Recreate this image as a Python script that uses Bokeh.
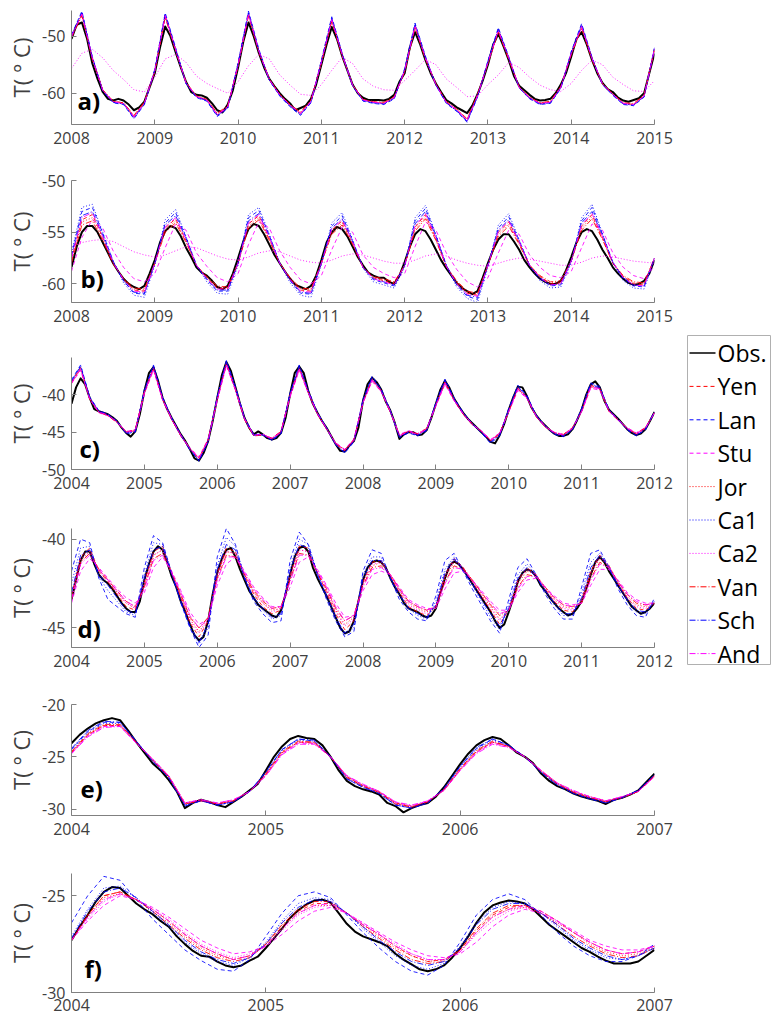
import numpy as np
from bokeh.plotting import figure
from bokeh.layouts import column, row
from bokeh.models import Range1d, Label, FixedTicker
from bokeh.core.properties import value
from bokeh.embed import file_html
from bokeh.resources import INLINE

# ---------------- series names ----------------
series_names = ["Obs.", "Yen", "Lan", "Stu", "Jor", "Ca1", "Ca2", "Van", "Sch", "And"]

# ---------------- panel a (2008-2015) ----------------
# Obs: every 1/16 year ; models: every 1/8 year
obs_a = [-50.5, -48.0, -47.6, -50.5, -54.8, -57.5, -59.8, -61.0, -61.3, -61.0, -61.3, -62.0, -63.0, -62.5, -61.5, -59.0,
         -56.5, -52.0, -48.3, -50.0, -52.8, -55.5, -58.0, -59.8, -60.3, -60.4, -60.8, -61.8, -63.0, -63.4, -62.0, -59.5,
         -55.5, -51.0, -47.6, -50.0, -53.0, -55.5, -57.5, -58.8, -60.0, -61.0, -61.8, -63.0, -62.6, -62.2, -61.0, -58.5,
         -55.0, -51.5, -48.4, -50.5, -53.5, -56.0, -58.5, -60.0, -60.8, -61.2, -61.2, -61.2, -61.3, -61.0, -60.3, -58.0,
         -56.5, -52.0, -49.3, -51.5, -54.2, -56.5, -58.3, -59.8, -61.2, -61.8, -62.5, -63.0, -63.5, -62.2, -60.2, -57.8,
         -55.0, -51.5, -49.6, -51.8, -54.2, -57.0, -58.7, -59.5, -60.3, -61.0, -61.3, -61.2, -61.0, -60.0, -58.5, -56.5,
         -53.6, -50.5, -49.3, -51.5, -54.2, -56.5, -58.2, -59.3, -59.8, -60.8, -61.3, -61.5, -61.2, -60.9, -60.0, -56.5,
         -53.0]
yen_a = [-50.0, -46.0, -53.8, -59.5, -61.5, -61.8, -64.2, -61.8,
         -56.0, -46.3, -52.3, -58.2, -60.6, -61.2, -63.8, -62.5,
         -55.0, -46.0, -52.6, -57.6, -60.3, -62.2, -63.6, -61.5,
         -54.5, -47.0, -53.2, -58.6, -61.2, -61.6, -61.8, -60.8,
         -56.0, -48.1, -53.8, -58.5, -61.6, -63.0, -64.8, -60.5,
         -54.6, -48.9, -53.8, -59.0, -60.8, -61.8, -61.6, -59.0,
         -53.0, -48.2, -53.9, -58.4, -60.2, -61.8, -62.0, -60.5,
         -52.2]
lan_a = [-49.8, -45.6, -53.6, -59.6, -61.7, -62.0, -64.5, -62.0,
         -55.8, -45.9, -52.0, -58.3, -60.8, -61.4, -64.1, -62.7,
         -54.7, -45.6, -52.3, -57.7, -60.5, -62.4, -63.9, -61.7,
         -54.2, -46.6, -53.0, -58.7, -61.4, -61.8, -62.0, -61.0,
         -55.7, -47.7, -53.5, -58.6, -61.8, -63.2, -65.1, -60.7,
         -54.3, -48.5, -53.6, -59.1, -61.0, -62.0, -61.8, -59.2,
         -52.7, -47.8, -53.7, -58.5, -60.4, -62.0, -62.2, -60.7,
         -52.0]
ca1_a = [-49.9, -45.8, -53.7, -59.5, -61.6, -61.9, -64.4, -61.9,
         -55.9, -46.1, -52.2, -58.2, -60.7, -61.3, -64.0, -62.6,
         -54.8, -45.8, -52.5, -57.6, -60.4, -62.3, -63.8, -61.6,
         -54.4, -46.8, -53.1, -58.6, -61.3, -61.7, -61.9, -60.9,
         -55.8, -47.9, -53.7, -58.5, -61.7, -63.1, -65.0, -60.6,
         -54.4, -48.7, -53.7, -59.0, -60.9, -61.9, -61.7, -59.1,
         -52.8, -48.0, -53.8, -58.4, -60.3, -61.9, -62.1, -60.6,
         -52.1]
sch_a = [-50.0, -45.9, -53.8, -59.6, -61.6, -61.9, -64.3, -61.9,
         -56.0, -46.2, -52.3, -58.3, -60.7, -61.3, -63.9, -62.6,
         -54.9, -45.9, -52.6, -57.7, -60.4, -62.3, -63.7, -61.6,
         -54.5, -46.9, -53.2, -58.7, -61.3, -61.7, -61.9, -60.9,
         -55.9, -48.0, -53.8, -58.6, -61.7, -63.1, -64.9, -60.6,
         -54.5, -48.8, -53.8, -59.1, -60.9, -61.9, -61.7, -59.1,
         -52.9, -48.1, -53.9, -58.5, -60.3, -61.9, -62.1, -60.6,
         -52.2]
jor_a = [-50.2, -46.3, -54.0, -59.4, -61.4, -61.7, -64.0, -61.6,
         -56.2, -46.6, -52.5, -58.1, -60.5, -61.1, -63.6, -62.3,
         -55.2, -46.3, -52.8, -57.5, -60.2, -62.0, -63.4, -61.3,
         -54.7, -47.3, -53.4, -58.5, -61.1, -61.5, -61.7, -60.7,
         -56.2, -48.4, -54.0, -58.4, -61.5, -62.8, -64.6, -60.3,
         -54.8, -49.2, -54.0, -58.9, -60.7, -61.7, -61.5, -58.9,
         -53.2, -48.5, -54.1, -58.3, -60.1, -61.7, -61.9, -60.4,
         -52.4]
van_a = [-50.3, -46.4, -54.1, -59.4, -61.4, -61.7, -63.9, -61.5,
         -56.3, -46.7, -52.6, -58.1, -60.5, -61.1, -63.5, -62.2,
         -55.3, -46.4, -52.9, -57.5, -60.2, -62.0, -63.3, -61.2,
         -54.8, -47.4, -53.5, -58.5, -61.1, -61.5, -61.6, -60.6,
         -56.3, -48.5, -54.1, -58.4, -61.5, -62.8, -64.5, -60.2,
         -54.9, -49.3, -54.1, -58.9, -60.7, -61.7, -61.4, -58.8,
         -53.3, -48.6, -54.2, -58.3, -60.1, -61.7, -61.8, -60.3,
         -52.5]
stu_a = [-50.1, -46.2, -53.9, -59.5, -61.5, -61.8, -64.1, -61.7,
         -56.1, -46.5, -52.4, -58.2, -60.6, -61.2, -63.7, -62.4,
         -55.1, -46.2, -52.7, -57.6, -60.3, -62.1, -63.5, -61.4,
         -54.6, -47.2, -53.3, -58.6, -61.2, -61.6, -61.8, -60.8,
         -56.1, -48.3, -53.9, -58.5, -61.6, -62.9, -64.7, -60.4,
         -54.7, -49.1, -53.9, -59.0, -60.8, -61.8, -61.6, -59.0,
         -53.1, -48.4, -54.0, -58.4, -60.2, -61.8, -62.0, -60.5,
         -52.3]
and_a = [-50.0, -46.1, -53.8, -59.5, -61.5, -61.8, -64.2, -61.8,
         -56.0, -46.4, -52.3, -58.2, -60.6, -61.2, -63.8, -62.5,
         -55.0, -46.1, -52.6, -57.6, -60.3, -62.1, -63.6, -61.5,
         -54.5, -47.1, -53.2, -58.6, -61.2, -61.6, -61.8, -60.8,
         -56.0, -48.2, -53.8, -58.5, -61.6, -62.9, -64.8, -60.5,
         -54.6, -49.0, -53.8, -59.0, -60.8, -61.8, -61.6, -59.0,
         -53.0, -48.3, -53.9, -58.4, -60.2, -61.8, -62.0, -60.5,
         -52.2]
ca2_a = [-55.7, -53.0, -52.3, -53.8, -56.0, -57.6, -59.4, -59.8,
         -57.2, -54.0, -53.2, -54.6, -57.0, -58.3, -59.2, -60.0,
         -58.0, -55.2, -53.2, -54.0, -56.8, -58.6, -60.2, -60.4,
         -58.5, -56.0, -53.7, -54.8, -57.5, -58.8, -59.4, -59.5,
         -57.8, -56.0, -54.1, -55.0, -57.5, -59.0, -60.6, -60.5,
         -58.5, -56.8, -54.6, -55.5, -57.2, -58.6, -59.4, -59.7,
         -58.3, -56.0, -54.2, -55.0, -57.2, -58.5, -59.6, -59.7,
         -57.8]

# ---------------- panel b (2008-2015) ----------------
obs_b = [-58.4, -56.4, -55.0, -54.4, -54.4, -55.0, -56.0, -57.0, -58.0, -58.8, -59.5, -60.0, -60.3, -60.5, -60.2, -59.0,
         -57.7, -56.0, -54.9, -54.4, -54.6, -55.4, -56.5, -57.4, -58.4, -58.9, -59.2, -59.7, -60.3, -60.5, -60.2, -59.0,
         -57.5, -55.9, -54.7, -54.2, -54.4, -55.2, -56.2, -57.2, -58.0, -58.8, -59.5, -60.1, -60.3, -60.5, -60.2, -59.2,
         -57.7, -56.0, -55.0, -54.5, -54.7, -55.4, -56.4, -57.4, -58.2, -58.9, -59.2, -59.4, -59.4, -59.8, -60.0, -59.2,
         -57.9, -56.4, -55.2, -54.7, -54.9, -55.7, -56.7, -57.7, -58.5, -59.2, -59.9, -60.4, -60.7, -61.0, -60.7, -59.4,
         -58.0, -56.7, -55.7, -55.2, -55.2, -55.9, -56.7, -57.7, -58.4, -59.0, -59.5, -59.8, -60.0, -60.0, -59.7, -58.7,
         -57.4, -56.0, -55.0, -54.7, -54.9, -55.7, -56.7, -57.5, -58.4, -59.0, -59.5, -59.9, -60.1, -60.0, -59.7, -59.0,
         -57.7]
ca1_b = [-57.0, -52.6, -52.3, -55.0, -57.8, -59.9, -61.1, -61.3,
         -58.2, -53.8, -52.8, -55.4, -58.2, -59.8, -60.9, -61.0,
         -58.2, -53.3, -52.6, -55.2, -58.0, -59.9, -61.1, -61.3,
         -58.2, -54.1, -53.1, -55.7, -58.5, -59.8, -60.1, -60.4,
         -58.4, -53.6, -52.4, -55.2, -58.3, -60.3, -61.4, -61.8,
         -58.4, -54.3, -53.2, -55.7, -58.3, -59.7, -60.4, -60.3,
         -58.0, -53.6, -52.3, -55.1, -58.0, -59.7, -60.4, -60.5,
         -57.6]
lan_b = [-57.2, -53.0, -52.6, -55.1, -57.8, -59.7, -60.9, -61.0,
         -58.0, -54.1, -53.1, -55.5, -58.2, -59.6, -60.7, -60.7,
         -58.0, -53.6, -52.9, -55.3, -58.0, -59.7, -60.9, -61.0,
         -58.0, -54.4, -53.4, -55.8, -58.4, -59.6, -59.9, -60.2,
         -58.2, -53.9, -52.7, -55.3, -58.2, -60.1, -61.2, -61.5,
         -58.2, -54.6, -53.5, -55.8, -58.2, -59.5, -60.2, -60.1,
         -57.8, -53.9, -52.6, -55.2, -57.9, -59.5, -60.2, -60.3,
         -57.5]
sch_b = [-57.4, -53.4, -53.0, -55.3, -57.9, -59.7, -60.8, -60.9,
         -58.0, -54.3, -53.4, -55.6, -58.2, -59.5, -60.6, -60.6,
         -58.0, -53.9, -53.2, -55.4, -58.0, -59.6, -60.8, -60.9,
         -58.0, -54.6, -53.7, -55.9, -58.4, -59.5, -59.8, -60.1,
         -58.2, -54.2, -53.0, -55.4, -58.2, -60.0, -61.1, -61.3,
         -58.2, -54.8, -53.8, -55.9, -58.2, -59.4, -60.1, -60.0,
         -57.8, -54.1, -53.0, -55.3, -57.9, -59.4, -60.1, -60.2,
         -57.5]
yen_b = [-57.6, -53.8, -53.3, -55.5, -58.0, -59.6, -60.6, -60.7,
         -58.0, -54.6, -53.7, -55.8, -58.2, -59.4, -60.4, -60.5,
         -58.0, -54.2, -53.4, -55.6, -58.0, -59.5, -60.6, -60.7,
         -58.0, -54.8, -53.9, -56.0, -58.4, -59.4, -59.7, -60.0,
         -58.2, -54.5, -53.3, -55.6, -58.3, -59.9, -60.9, -61.1,
         -58.2, -55.0, -54.0, -56.0, -58.2, -59.3, -60.0, -59.9,
         -57.8, -54.4, -53.3, -55.5, -58.0, -59.3, -60.0, -60.1,
         -57.5]
jor_b = [-57.8, -54.0, -53.6, -55.6, -58.0, -59.5, -60.5, -60.6,
         -58.0, -54.8, -53.9, -55.9, -58.2, -59.4, -60.3, -60.4,
         -58.0, -54.4, -53.6, -55.7, -58.0, -59.5, -60.5, -60.6,
         -58.0, -55.0, -54.1, -56.1, -58.4, -59.4, -59.6, -59.9,
         -58.2, -54.7, -53.5, -55.7, -58.3, -59.8, -60.8, -61.0,
         -58.2, -55.2, -54.2, -56.1, -58.2, -59.3, -59.9, -59.8,
         -57.8, -54.6, -53.5, -55.6, -58.0, -59.3, -59.9, -60.0,
         -57.5]
van_b = [-58.0, -54.3, -53.9, -55.8, -58.1, -59.5, -60.4, -60.5,
         -58.0, -55.0, -54.1, -56.0, -58.2, -59.3, -60.2, -60.3,
         -58.0, -54.6, -53.8, -55.8, -58.0, -59.4, -60.4, -60.5,
         -58.0, -55.2, -54.3, -56.2, -58.4, -59.3, -59.5, -59.8,
         -58.2, -54.9, -53.7, -55.8, -58.3, -59.7, -60.7, -60.9,
         -58.2, -55.4, -54.4, -56.2, -58.2, -59.2, -59.8, -59.7,
         -57.8, -54.8, -53.7, -55.7, -58.0, -59.2, -59.8, -59.9,
         -57.5]
stu_b = [-58.8, -55.5, -53.8, -54.6, -56.8, -58.4, -59.5, -59.8,
         -59.0, -56.5, -54.2, -54.8, -57.0, -58.3, -59.4, -59.8,
         -59.0, -56.2, -54.0, -54.6, -56.8, -58.4, -59.6, -60.0,
         -59.2, -56.7, -54.5, -55.0, -57.2, -58.4, -59.0, -59.4,
         -59.0, -56.4, -54.0, -54.8, -57.0, -58.6, -59.8, -60.3,
         -59.4, -57.0, -54.8, -55.2, -57.2, -58.4, -59.2, -59.4,
         -58.8, -56.5, -54.2, -54.8, -57.0, -58.4, -59.2, -59.5,
         -58.3]
and_b = [-57.5, -53.6, -53.1, -55.4, -57.9, -59.6, -60.7, -60.8,
         -58.0, -54.5, -53.6, -55.7, -58.2, -59.5, -60.5, -60.5,
         -58.0, -54.1, -53.3, -55.5, -58.0, -59.6, -60.7, -60.8,
         -58.0, -54.7, -53.8, -55.9, -58.4, -59.5, -59.8, -60.1,
         -58.2, -54.4, -53.2, -55.5, -58.3, -60.0, -61.0, -61.2,
         -58.2, -54.9, -53.9, -55.9, -58.2, -59.4, -60.1, -60.0,
         -57.8, -54.3, -53.2, -55.4, -57.9, -59.4, -60.1, -60.2,
         -57.5]
ca2_b = [-56.4, -56.0, -55.8, -55.7, -55.9, -56.4, -56.9, -57.2,
         -57.4, -57.2, -56.8, -56.4, -56.5, -56.9, -57.3, -57.6,
         -57.7, -57.4, -57.0, -56.8, -56.9, -57.3, -57.7, -57.9,
         -58.0, -57.7, -57.3, -57.1, -57.2, -57.5, -57.8, -58.0,
         -58.0, -57.7, -57.3, -57.1, -57.3, -57.7, -58.0, -58.2,
         -58.3, -58.0, -57.7, -57.5, -57.6, -57.8, -58.0, -58.2,
         -58.2, -57.9, -57.5, -57.3, -57.4, -57.6, -57.8, -57.9,
         -58.0]

# ---------------- panel c (2004-2012) ----------------
obs_c = [-41.2, -39.0, -37.8, -38.6, -40.4, -41.9, -42.2, -42.4, -42.6, -43.0, -43.5, -44.4, -45.1, -45.6, -44.9, -42.6,
         -39.5, -37.1, -36.3, -38.1, -40.4, -41.9, -43.1, -44.2, -45.3, -46.2, -47.3, -48.5, -48.8, -47.8, -46.2, -43.5,
         -40.4, -37.4, -35.6, -36.8, -39.0, -41.2, -43.1, -44.4, -45.3, -44.9, -45.3, -45.8, -46.0, -45.8, -45.1, -43.1,
         -39.9, -37.1, -36.2, -37.1, -39.5, -41.2, -42.4, -43.5, -44.4, -45.5, -46.6, -47.5, -47.6, -46.8, -46.2, -44.4,
         -40.8, -38.6, -37.7, -38.3, -39.3, -40.9, -42.1, -43.8, -45.9, -45.3, -45.0, -45.0, -45.4, -45.3, -44.7, -43.1,
         -41.2, -39.3, -38.1, -39.1, -40.5, -41.5, -42.4, -43.2, -43.8, -44.4, -45.0, -45.6, -46.3, -46.5, -45.4, -43.9,
         -42.0, -40.3, -38.9, -39.0, -40.2, -41.7, -42.7, -43.5, -44.1, -44.7, -45.2, -45.5, -45.5, -45.3, -44.6, -43.4,
         -42.0, -40.0, -38.6, -38.2, -39.0, -40.8, -42.0, -42.6, -43.2, -43.9, -44.6, -45.1, -45.4, -45.2, -44.6, -43.5,
         -42.3]
lan_c = [-38.0, -36.0, -40.3, -42.1, -42.6, -43.5, -45.2, -45.0,
         -39.3, -36.0, -40.3, -43.1, -45.3, -47.3, -48.9, -46.3,
         -40.2, -35.4, -38.9, -43.1, -45.3, -45.3, -46.1, -45.2,
         -39.7, -36.0, -39.4, -42.4, -44.4, -46.7, -47.8, -46.3,
         -40.6, -37.5, -39.2, -42.1, -45.7, -45.1, -45.5, -44.8,
         -41.0, -37.9, -40.4, -42.4, -43.9, -45.1, -46.5, -45.5,
         -41.8, -38.7, -40.1, -42.7, -44.2, -45.3, -45.6, -44.7,
         -41.8, -38.4, -38.9, -42.0, -43.3, -44.7, -45.5, -44.7,
         -42.2]
ca1_c = [-38.1, -36.1, -40.3, -42.2, -42.6, -43.5, -45.2, -44.9,
         -39.4, -36.1, -40.4, -43.1, -45.3, -47.3, -48.8, -46.2,
         -40.3, -35.5, -39.0, -43.1, -45.3, -45.3, -46.1, -45.1,
         -39.8, -36.1, -39.5, -42.4, -44.4, -46.7, -47.7, -46.2,
         -40.7, -37.6, -39.3, -42.1, -45.7, -45.0, -45.4, -44.7,
         -41.1, -38.0, -40.5, -42.4, -43.8, -45.0, -46.4, -45.4,
         -41.9, -38.8, -40.2, -42.7, -44.1, -45.2, -45.5, -44.6,
         -41.9, -38.5, -39.0, -42.0, -43.2, -44.6, -45.4, -44.6,
         -42.3]
sch_c = [-38.2, -36.2, -40.4, -42.2, -42.7, -43.6, -45.1, -44.9,
         -39.5, -36.2, -40.4, -43.2, -45.4, -47.4, -48.8, -46.2,
         -40.4, -35.6, -39.1, -43.2, -45.4, -45.4, -46.0, -45.1,
         -39.9, -36.2, -39.6, -42.5, -44.5, -46.7, -47.7, -46.2,
         -40.8, -37.7, -39.4, -42.2, -45.6, -45.0, -45.4, -44.7,
         -41.2, -38.1, -40.6, -42.5, -43.9, -45.0, -46.3, -45.4,
         -42.0, -38.9, -40.3, -42.8, -44.2, -45.2, -45.5, -44.6,
         -42.0, -38.6, -39.1, -42.1, -43.3, -44.6, -45.4, -44.6,
         -42.3]
yen_c = [-38.3, -36.3, -40.5, -42.3, -42.7, -43.6, -45.0, -44.8,
         -39.6, -36.3, -40.5, -43.2, -45.4, -47.3, -48.6, -46.1,
         -40.5, -35.7, -39.2, -43.2, -45.4, -45.4, -45.9, -45.0,
         -40.0, -36.3, -39.6, -42.5, -44.5, -46.6, -47.5, -46.1,
         -40.9, -37.8, -39.4, -42.2, -45.5, -44.9, -45.3, -44.6,
         -41.3, -38.2, -40.6, -42.5, -43.9, -44.9, -46.2, -45.3,
         -42.1, -39.0, -40.3, -42.8, -44.2, -45.1, -45.4, -44.5,
         -42.1, -38.7, -39.1, -42.1, -43.3, -44.5, -45.3, -44.5,
         -42.4]
jor_c = [-38.4, -36.4, -40.5, -42.3, -42.8, -43.6, -45.0, -44.8,
         -39.7, -36.4, -40.6, -43.3, -45.4, -47.2, -48.5, -46.0,
         -40.6, -35.8, -39.3, -43.3, -45.4, -45.3, -45.9, -45.0,
         -40.1, -36.4, -39.7, -42.6, -44.5, -46.5, -47.4, -46.0,
         -41.0, -37.9, -39.5, -42.3, -45.5, -44.9, -45.3, -44.6,
         -41.4, -38.3, -40.7, -42.6, -43.9, -44.9, -46.1, -45.2,
         -42.2, -39.1, -40.4, -42.9, -44.2, -45.1, -45.4, -44.5,
         -42.2, -38.8, -39.2, -42.2, -43.3, -44.5, -45.2, -44.5,
         -42.4]
van_c = [-38.4, -36.5, -40.6, -42.3, -42.8, -43.7, -45.0, -44.7,
         -39.7, -36.5, -40.6, -43.3, -45.5, -47.2, -48.5, -46.0,
         -40.6, -35.9, -39.3, -43.3, -45.5, -45.4, -45.8, -44.9,
         -40.1, -36.5, -39.7, -42.6, -44.6, -46.5, -47.4, -46.0,
         -41.0, -38.0, -39.5, -42.3, -45.4, -44.9, -45.2, -44.5,
         -41.4, -38.4, -40.7, -42.6, -44.0, -44.9, -46.1, -45.2,
         -42.2, -39.2, -40.4, -42.9, -44.3, -45.1, -45.3, -44.4,
         -42.2, -38.9, -39.2, -42.2, -43.4, -44.5, -45.2, -44.4,
         -42.4]
stu_c = [-38.5, -36.7, -40.6, -42.4, -42.8, -43.7, -44.9, -44.7,
         -39.9, -36.7, -40.7, -43.3, -45.5, -47.1, -48.3, -45.9,
         -40.8, -36.1, -39.4, -43.3, -45.5, -45.3, -45.8, -44.9,
         -40.3, -36.7, -39.8, -42.6, -44.6, -46.4, -47.3, -45.9,
         -41.1, -38.2, -39.6, -42.3, -45.3, -44.8, -45.2, -44.5,
         -41.5, -38.6, -40.8, -42.6, -44.0, -44.8, -46.0, -45.1,
         -42.3, -39.4, -40.5, -42.9, -44.3, -45.0, -45.3, -44.4,
         -42.3, -39.1, -39.4, -42.2, -43.4, -44.4, -45.1, -44.4,
         -42.4]
ca2_c = [-38.5, -36.6, -40.6, -42.4, -42.8, -43.7, -44.9, -44.7,
         -39.8, -36.6, -40.7, -43.3, -45.5, -47.2, -48.4, -46.0,
         -40.7, -36.0, -39.4, -43.3, -45.4, -45.3, -45.8, -44.9,
         -40.2, -36.6, -39.8, -42.6, -44.6, -46.5, -47.3, -46.0,
         -41.1, -38.1, -39.6, -42.3, -45.4, -44.8, -45.2, -44.5,
         -41.5, -38.5, -40.8, -42.6, -44.0, -44.9, -46.0, -45.1,
         -42.3, -39.3, -40.5, -42.9, -44.3, -45.0, -45.3, -44.4,
         -42.3, -39.0, -39.3, -42.2, -43.4, -44.4, -45.1, -44.4,
         -42.4]
and_c = [-38.4, -36.5, -40.5, -42.3, -42.7, -43.6, -45.0, -44.8,
         -39.7, -36.5, -40.6, -43.2, -45.4, -47.2, -48.5, -46.1,
         -40.6, -35.9, -39.3, -43.2, -45.4, -45.3, -45.9, -45.0,
         -40.1, -36.5, -39.7, -42.5, -44.5, -46.5, -47.4, -46.1,
         -41.0, -38.0, -39.5, -42.2, -45.5, -44.9, -45.3, -44.6,
         -41.4, -38.4, -40.7, -42.5, -43.9, -44.9, -46.1, -45.2,
         -42.2, -39.2, -40.4, -42.8, -44.2, -45.1, -45.4, -44.5,
         -42.2, -38.9, -39.2, -42.1, -43.3, -44.5, -45.2, -44.5,
         -42.4]

# ---------------- panel d (2004-2012) ----------------
obs_d = [-43.4, -42.3, -41.2, -40.7, -40.7, -41.4, -42.0, -42.3, -42.5, -42.8, -43.2, -43.6, -43.9, -44.1, -44.1, -43.5,
         -42.3, -41.4, -40.7, -40.4, -40.6, -41.3, -42.1, -42.7, -43.5, -44.1, -44.8, -45.4, -45.7, -45.5, -44.6, -43.1,
         -41.9, -41.1, -40.6, -40.5, -41.0, -41.7, -42.3, -42.9, -43.3, -43.7, -43.9, -44.1, -44.3, -44.4, -44.0, -43.1,
         -42.0, -41.0, -40.5, -40.4, -40.7, -41.6, -42.2, -42.7, -43.2, -43.8, -44.4, -45.0, -45.3, -45.2, -44.6, -43.5,
         -42.3, -41.6, -41.3, -41.2, -41.3, -41.6, -42.2, -42.7, -43.1, -43.6, -43.9, -44.0, -44.1, -44.3, -44.4, -44.3,
         -43.9, -43.0, -42.2, -41.5, -41.25, -41.4, -41.7, -42.1, -42.5, -42.9, -43.3, -43.7, -44.1, -44.6, -45.0, -44.8,
         -44.1, -43.3, -42.4, -41.9, -41.7, -41.8, -42.1, -42.6, -42.9, -43.3, -43.6, -43.9, -44.1, -44.3, -44.2, -43.9,
         -43.5, -42.8, -42.0, -41.3, -41.0, -41.3, -41.8, -42.2, -42.6, -43.0, -43.4, -43.8, -44.0, -44.2, -44.1, -43.9,
         -43.6]
lan_d = [-41.8, -40.0, -40.2, -42.2, -43.4, -43.8, -44.2, -44.4,
         -41.6, -39.8, -40.2, -41.9, -43.6, -45.0, -46.1, -45.4,
         -41.0, -39.4, -40.3, -42.2, -43.5, -44.2, -44.7, -44.6,
         -41.2, -39.6, -40.3, -42.0, -43.4, -44.6, -45.5, -45.2,
         -41.8, -40.6, -40.8, -42.2, -43.4, -44.1, -44.5, -44.6,
         -43.2, -41.2, -40.8, -41.8, -42.8, -43.7, -44.6, -45.3,
         -43.4, -41.6, -41.1, -42.0, -43.1, -43.9, -44.5, -44.5,
         -42.7, -40.8, -40.6, -41.6, -42.8, -43.7, -44.3, -44.4,
         -43.3]
ca1_d = [-42.5, -40.5, -40.4, -42.1, -42.9, -43.5, -44.1, -44.3,
         -42.0, -40.2, -40.3, -41.9, -43.5, -44.9, -45.9, -45.0,
         -41.5, -39.9, -40.4, -42.1, -43.4, -44.0, -44.5, -44.3,
         -41.6, -40.0, -40.3, -41.9, -43.2, -44.4, -45.4, -45.0,
         -42.0, -41.0, -41.0, -42.1, -43.2, -43.9, -44.3, -44.5,
         -43.5, -41.7, -41.0, -41.7, -42.6, -43.5, -44.4, -45.1,
         -43.7, -42.0, -41.4, -42.0, -42.9, -43.7, -44.3, -44.3,
         -43.0, -41.3, -40.8, -41.5, -42.6, -43.5, -44.1, -44.2,
         -43.5]
sch_d = [-43.0, -40.9, -40.6, -42.0, -42.6, -43.3, -44.0, -44.2,
         -42.2, -40.6, -40.4, -42.0, -43.5, -44.9, -45.8, -44.8,
         -41.7, -40.3, -40.6, -42.2, -43.3, -43.9, -44.4, -44.2,
         -41.8, -40.3, -40.5, -42.0, -43.2, -44.4, -45.3, -44.8,
         -42.2, -41.2, -41.2, -42.2, -43.1, -43.9, -44.2, -44.4,
         -43.7, -41.9, -41.1, -41.8, -42.5, -43.4, -44.2, -44.9,
         -43.9, -42.2, -41.6, -42.1, -42.9, -43.6, -44.2, -44.2,
         -43.3, -41.6, -40.9, -41.6, -42.6, -43.4, -44.0, -44.1,
         -43.5]
yen_d = [-43.2, -41.0, -40.5, -41.8, -42.4, -43.1, -43.8, -44.0,
         -42.4, -40.7, -40.4, -41.9, -43.3, -44.7, -45.5, -44.6,
         -41.9, -40.5, -40.7, -42.1, -43.1, -43.8, -44.2, -44.0,
         -42.0, -40.4, -40.5, -41.9, -43.0, -44.2, -45.1, -44.6,
         -42.4, -41.3, -41.2, -42.1, -43.0, -43.8, -44.1, -44.3,
         -43.8, -42.0, -41.1, -41.6, -42.4, -43.2, -44.0, -44.8,
         -44.0, -42.3, -41.6, -42.0, -42.8, -43.5, -44.0, -44.1,
         -43.4, -41.8, -40.9, -41.5, -42.5, -43.3, -43.9, -44.0,
         -43.6]
jor_d = [-43.3, -41.2, -40.7, -41.7, -42.3, -43.0, -43.6, -43.9,
         -42.6, -40.9, -40.6, -41.9, -43.2, -44.5, -45.2, -44.5,
         -42.0, -40.7, -40.8, -42.0, -43.0, -43.6, -44.0, -43.9,
         -42.2, -40.6, -40.7, -41.9, -42.9, -44.0, -44.8, -44.4,
         -42.5, -41.5, -41.3, -42.0, -42.9, -43.6, -43.9, -44.1,
         -43.8, -42.2, -41.3, -41.6, -42.3, -43.1, -43.8, -44.5,
         -44.0, -42.5, -41.8, -42.0, -42.7, -43.4, -43.8, -43.9,
         -43.5, -42.0, -41.1, -41.5, -42.4, -43.2, -43.7, -43.8,
         -43.6]
van_d = [-43.4, -41.3, -40.8, -41.7, -42.3, -42.9, -43.5, -43.8,
         -42.7, -41.1, -40.8, -41.9, -43.1, -44.4, -45.0, -44.4,
         -42.2, -40.9, -41.0, -42.0, -42.9, -43.5, -43.9, -43.8,
         -42.3, -40.8, -40.9, -41.9, -42.8, -43.9, -44.6, -44.3,
         -42.6, -41.6, -41.5, -42.0, -42.8, -43.5, -43.8, -44.0,
         -43.8, -42.4, -41.5, -41.7, -42.3, -43.0, -43.7, -44.3,
         -44.0, -42.7, -42.0, -42.1, -42.7, -43.3, -43.7, -43.8,
         -43.6, -42.2, -41.3, -41.6, -42.4, -43.1, -43.6, -43.7,
         -43.6]
stu_d = [-43.6, -41.8, -41.1, -41.6, -42.2, -42.8, -43.3, -43.6,
         -43.0, -41.6, -41.0, -41.8, -42.9, -44.1, -44.8, -44.5,
         -42.6, -41.4, -41.0, -41.8, -42.7, -43.3, -43.8, -43.8,
         -42.7, -41.3, -41.0, -41.7, -42.6, -43.6, -44.4, -44.3,
         -42.9, -42.0, -41.8, -42.0, -42.7, -43.4, -43.7, -43.9,
         -43.9, -42.8, -41.9, -41.8, -42.3, -42.9, -43.5, -44.0,
         -44.0, -43.0, -42.3, -42.2, -42.7, -43.2, -43.6, -43.7,
         -43.6, -42.6, -41.7, -41.7, -42.3, -43.0, -43.4, -43.6,
         -43.6]
and_d = [-43.4, -41.4, -40.9, -41.7, -42.3, -42.9, -43.5, -43.8,
         -42.8, -41.2, -40.9, -41.9, -43.0, -44.3, -45.0, -44.5,
         -42.3, -41.0, -41.0, -41.9, -42.8, -43.4, -43.9, -43.8,
         -42.4, -40.9, -40.9, -41.8, -42.7, -43.8, -44.6, -44.3,
         -42.7, -41.7, -41.6, -42.0, -42.8, -43.5, -43.8, -44.0,
         -43.8, -42.5, -41.6, -41.7, -42.3, -43.0, -43.6, -44.2,
         -44.0, -42.8, -42.1, -42.1, -42.7, -43.3, -43.7, -43.8,
         -43.6, -42.3, -41.4, -41.6, -42.4, -43.1, -43.5, -43.7,
         -43.6]
ca2_d = [-43.3, -41.1, -40.7, -41.8, -42.4, -43.0, -43.6, -43.9,
         -42.5, -40.9, -40.6, -41.9, -43.2, -44.6, -45.3, -44.6,
         -42.0, -40.7, -40.8, -42.0, -43.0, -43.6, -44.1, -43.9,
         -42.1, -40.6, -40.7, -41.9, -42.9, -44.1, -44.9, -44.5,
         -42.5, -41.4, -41.3, -42.0, -42.9, -43.7, -44.0, -44.2,
         -43.8, -42.1, -41.2, -41.6, -42.4, -43.2, -43.9, -44.6,
         -44.0, -42.4, -41.7, -42.0, -42.8, -43.5, -43.9, -44.0,
         -43.5, -41.9, -41.0, -41.5, -42.5, -43.3, -43.8, -43.9,
         -43.6]

# ---------------- panel e (2004-2007) ----------------
# Obs: every 1/24 year ; models: every 1/12 year
obs_e = [-23.7, -22.9, -22.3, -21.8, -21.5, -21.3, -21.5, -22.5, -23.6, -24.6, -25.6, -26.3,
         -27.2, -28.3, -29.9, -29.4, -29.1, -29.3, -29.6, -29.8, -29.3, -28.8, -28.2, -27.6,
         -26.3, -25.0, -24.0, -23.3, -23.0, -23.2, -23.3, -23.9, -25.0, -26.3, -27.3, -27.8,
         -28.1, -28.3, -28.6, -29.4, -29.7, -30.3, -29.9, -29.6, -29.4, -28.8, -27.9, -26.8,
         -25.7, -24.7, -23.9, -23.4, -23.1, -23.3, -23.9, -24.6, -25.0, -25.6, -26.6, -27.3,
         -27.8, -28.1, -28.5, -28.8, -29.0, -29.2, -29.5, -29.1, -28.9, -28.6, -28.2, -27.4,
         -26.6]
lan_e = [-24.3, -22.6, -21.7, -21.7, -23.5, -25.4, -27.0, -29.6, -29.2, -29.6, -29.3, -28.3,
         -26.5, -24.3, -23.3, -23.5, -25.0, -27.1, -27.9, -28.5, -29.6, -29.9, -29.4, -28.0,
         -25.9, -24.2, -23.3, -23.9, -25.0, -26.5, -27.7, -28.5, -29.0, -29.4, -28.9, -28.2,
         -26.7]
ca1_e = [-24.4, -22.7, -21.8, -21.8, -23.5, -25.3, -26.9, -29.6, -29.2, -29.6, -29.3, -28.3,
         -26.5, -24.4, -23.4, -23.5, -25.0, -27.0, -27.8, -28.4, -29.5, -29.8, -29.3, -28.1,
         -26.0, -24.3, -23.4, -23.9, -25.0, -26.4, -27.6, -28.4, -28.9, -29.3, -28.9, -28.2,
         -26.7]
sch_e = [-24.2, -22.5, -21.6, -21.7, -23.5, -25.4, -27.0, -29.7, -29.2, -29.6, -29.3, -28.3,
         -26.4, -24.3, -23.3, -23.4, -25.0, -27.1, -27.9, -28.5, -29.6, -29.9, -29.4, -28.0,
         -25.9, -24.1, -23.3, -23.9, -25.0, -26.5, -27.7, -28.5, -29.0, -29.4, -28.9, -28.2,
         -26.7]
yen_e = [-24.6, -22.9, -22.0, -22.0, -23.6, -25.3, -26.9, -29.5, -29.2, -29.5, -29.2, -28.3,
         -26.7, -24.6, -23.6, -23.6, -25.0, -26.9, -27.8, -28.4, -29.4, -29.8, -29.3, -28.2,
         -26.2, -24.5, -23.6, -24.0, -25.0, -26.4, -27.6, -28.4, -28.9, -29.3, -28.9, -28.3,
         -26.8]
jor_e = [-24.6, -22.9, -22.0, -22.0, -23.6, -25.2, -26.8, -29.4, -29.1, -29.5, -29.2, -28.3,
         -26.7, -24.6, -23.6, -23.7, -25.0, -26.9, -27.7, -28.3, -29.4, -29.7, -29.3, -28.2,
         -26.2, -24.5, -23.6, -24.0, -25.0, -26.3, -27.5, -28.3, -28.8, -29.2, -28.9, -28.3,
         -26.8]
van_e = [-24.5, -22.8, -21.9, -21.9, -23.6, -25.3, -26.9, -29.5, -29.2, -29.5, -29.2, -28.3,
         -26.6, -24.5, -23.5, -23.6, -25.0, -27.0, -27.8, -28.4, -29.5, -29.8, -29.3, -28.1,
         -26.1, -24.4, -23.5, -24.0, -25.0, -26.4, -27.6, -28.4, -28.9, -29.3, -28.9, -28.3,
         -26.8]
stu_e = [-24.7, -23.0, -22.1, -22.1, -23.7, -25.2, -26.8, -29.4, -29.1, -29.4, -29.1, -28.3,
         -26.8, -24.7, -23.7, -23.7, -25.0, -26.8, -27.7, -28.3, -29.3, -29.7, -29.2, -28.2,
         -26.3, -24.6, -23.7, -24.1, -25.0, -26.3, -27.5, -28.3, -28.8, -29.2, -28.8, -28.3,
         -26.9]
ca2_e = [-24.6, -23.0, -22.1, -22.0, -23.6, -25.2, -26.8, -29.4, -29.1, -29.5, -29.2, -28.3,
         -26.8, -24.7, -23.6, -23.7, -25.0, -26.8, -27.7, -28.3, -29.4, -29.7, -29.2, -28.2,
         -26.2, -24.6, -23.6, -24.0, -25.0, -26.3, -27.5, -28.3, -28.8, -29.2, -28.8, -28.3,
         -26.9]
and_e = [-24.7, -23.1, -22.2, -22.1, -23.7, -25.2, -26.8, -29.4, -29.1, -29.4, -29.1, -28.3,
         -26.8, -24.8, -23.8, -23.8, -25.0, -26.8, -27.6, -28.3, -29.3, -29.6, -29.2, -28.2,
         -26.3, -24.7, -23.8, -24.1, -25.0, -26.3, -27.5, -28.2, -28.8, -29.2, -28.8, -28.3,
         -26.9]

# ---------------- panel f (2004-2007) ----------------
obs_f = [-27.3, -26.6, -26.0, -25.3, -24.8, -24.55, -24.6, -25.0, -25.4, -25.7, -25.95, -26.3,
         -26.6, -27.1, -27.5, -27.85, -28.1, -28.15, -28.4, -28.6, -28.7, -28.6, -28.35, -28.15,
         -27.7, -27.2, -26.7, -26.15, -25.75, -25.45, -25.25, -25.2, -25.35, -25.9, -26.45, -26.85,
         -27.1, -27.25, -27.4, -27.6, -28.0, -28.3, -28.55, -28.8, -28.9, -28.8, -28.6, -28.2,
         -27.7, -27.1, -26.4, -25.85, -25.5, -25.35, -25.25, -25.3, -25.4, -25.7, -26.1, -26.5,
         -26.8, -27.1, -27.4, -27.7, -27.9, -28.15, -28.35, -28.5, -28.5, -28.5, -28.4, -28.1,
         -27.8]
lan_f = [-26.4, -25.0, -24.0, -24.2, -25.2, -26.2, -27.0, -27.8, -28.35, -28.8, -28.9, -28.3,
         -27.1, -25.9, -25.0, -24.8, -25.1, -26.0, -26.9, -27.7, -28.4, -28.9, -29.1, -28.6,
         -27.4, -26.0, -25.2, -24.9, -25.2, -26.0, -26.9, -27.6, -28.1, -28.4, -28.4, -28.1,
         -27.5]
stu_f = [-27.3, -26.3, -25.5, -25.0, -25.2, -25.6, -26.1, -26.7, -27.3, -27.7, -28.0, -27.9,
         -27.6, -27.0, -26.3, -25.8, -25.6, -25.9, -26.4, -26.9, -27.4, -27.8, -28.1, -28.2,
         -28.0, -27.4, -26.6, -26.0, -25.7, -25.9, -26.3, -26.8, -27.3, -27.6, -27.8, -27.8,
         -27.6]
yen_f = [-27.3, -26.0, -25.0, -24.8, -25.2, -25.7, -26.3, -27.0, -27.6, -28.0, -28.3, -28.1,
         -27.5, -26.6, -25.8, -25.4, -25.4, -25.9, -26.5, -27.0, -27.6, -28.1, -28.4, -28.3,
         -27.8, -26.8, -26.0, -25.6, -25.5, -25.8, -26.3, -26.9, -27.4, -27.8, -28.0, -27.9,
         -27.6]
jor_f = [-27.3, -26.1, -25.1, -24.9, -25.2, -25.8, -26.4, -27.1, -27.7, -28.1, -28.3, -28.1,
         -27.6, -26.7, -25.9, -25.5, -25.5, -25.9, -26.5, -27.1, -27.7, -28.1, -28.4, -28.3,
         -27.9, -26.9, -26.1, -25.7, -25.6, -25.9, -26.4, -26.9, -27.5, -27.9, -28.1, -28.0,
         -27.7]
van_f = [-27.3, -26.0, -25.0, -24.8, -25.2, -25.8, -26.5, -27.2, -27.8, -28.2, -28.4, -28.2,
         -27.5, -26.5, -25.7, -25.3, -25.3, -25.9, -26.6, -27.2, -27.8, -28.3, -28.5, -28.4,
         -27.8, -26.7, -25.9, -25.5, -25.5, -25.9, -26.5, -27.1, -27.6, -28.0, -28.2, -28.1,
         -27.7]
ca1_f = [-27.1, -25.7, -24.6, -24.5, -25.1, -25.9, -26.6, -27.4, -28.0, -28.4, -28.6, -28.2,
         -27.4, -26.3, -25.4, -25.1, -25.2, -25.9, -26.7, -27.4, -28.1, -28.6, -28.8, -28.5,
         -27.6, -26.4, -25.6, -25.3, -25.4, -25.9, -26.6, -27.3, -27.8, -28.2, -28.3, -28.1,
         -27.6]
sch_f = [-27.2, -25.8, -24.8, -24.6, -25.1, -25.8, -26.5, -27.3, -27.9, -28.3, -28.5, -28.2,
         -27.5, -26.4, -25.6, -25.2, -25.3, -25.9, -26.6, -27.3, -27.9, -28.4, -28.6, -28.4,
         -27.7, -26.5, -25.7, -25.4, -25.4, -25.9, -26.5, -27.2, -27.7, -28.1, -28.3, -28.1,
         -27.7]
ca2_f = [-27.3, -26.2, -25.3, -24.9, -25.2, -25.7, -26.2, -26.9, -27.5, -27.9, -28.2, -28.0,
         -27.6, -26.8, -26.0, -25.6, -25.5, -25.9, -26.4, -27.0, -27.5, -28.0, -28.3, -28.3,
         -27.9, -27.0, -26.3, -25.8, -25.6, -25.9, -26.4, -26.9, -27.4, -27.8, -28.0, -27.9,
         -27.6]
and_f = [-27.3, -26.1, -25.2, -24.9, -25.2, -25.7, -26.3, -27.0, -27.6, -28.0, -28.3, -28.1,
         -27.6, -26.7, -25.9, -25.5, -25.4, -25.9, -26.5, -27.0, -27.6, -28.0, -28.3, -28.3,
         -27.9, -26.9, -26.1, -25.7, -25.5, -25.8, -26.3, -26.9, -27.4, -27.8, -28.0, -27.9,
         -27.6]

# ---------------- tick values ----------------
xticks_ab = [2008, 2009, 2010, 2011, 2012, 2013, 2014, 2015]
xticks_cd = [2004, 2005, 2006, 2007, 2008, 2009, 2010, 2011, 2012]
xticks_ef = [2004, 2005, 2006, 2007]
yticks_a = [-60, -50]
yticks_b = [-60, -55, -50]
yticks_c = [-50, -45, -40]
yticks_d = [-45, -40]
yticks_e = [-30, -25, -20]
yticks_f = [-30, -25]

# ---------------- styles ----------------
RED, BLUE, MAG = "#ff0000", "#0000ff", "#ff00ff"
colors = ["#000000", RED, BLUE, MAG, RED, BLUE, MAG, RED, BLUE, MAG]
DASH, DOT, DASHDOT = "4 3", "1 2", "6 2 1 2"
dashes = ["solid", DASH, DASH, DASH, DOT, DOT, DOT, DASHDOT, DASHDOT, DASHDOT]
widths = [2.0] + [1.0] * 9
FONT = "Open Sans"

panels = [
    dict(lab="a)", obs=obs_a, mods=[yen_a, lan_a, stu_a, jor_a, ca1_a, ca2_a, van_a, sch_a, and_a],
         t0=2008, so=1 / 16, sm=1 / 8, xr=(2008, 2015), yr=(-65.5, -45.5), xt=xticks_ab, yt=yticks_a,
         h=160, top=10, bot=36, left=71, right=29, lx=6, ly=8, xs=7),
    dict(lab="b)", obs=obs_b, mods=[yen_b, lan_b, stu_b, jor_b, ca1_b, ca2_b, van_b, sch_b, and_b],
         t0=2008, so=1 / 16, sm=1 / 8, xr=(2008, 2015), yr=(-61.8, -50.0), xt=xticks_ab, yt=yticks_b,
         h=179, top=20, bot=37, left=71, right=29, lx=9, ly=8, xs=7),
    dict(lab="c)", obs=obs_c, mods=[yen_c, lan_c, stu_c, jor_c, ca1_c, ca2_c, van_c, sch_c, and_c],
         t0=2004, so=1 / 16, sm=1 / 8, xr=(2004, 2012), yr=(-50.0, -35.0), xt=xticks_cd, yt=yticks_c,
         h=170, top=18, bot=40, left=70, right=26, lx=8, ly=5, xs=7),
    dict(lab="d)", obs=obs_d, mods=[yen_d, lan_d, stu_d, jor_d, ca1_d, ca2_d, van_d, sch_d, and_d],
         t0=2004, so=1 / 16, sm=1 / 8, xr=(2004, 2012), yr=(-46.1, -39.4), xt=xticks_cd, yt=yticks_d,
         h=176, top=19, bot=38, left=70, right=26, lx=6, ly=3, xs=7),
    dict(lab="e)", obs=obs_e, mods=[yen_e, lan_e, stu_e, jor_e, ca1_e, ca2_e, van_e, sch_e, and_e],
         t0=2004, so=1 / 24, sm=1 / 12, xr=(2004, 2007), yr=(-30.6, -20.0), xt=xticks_ef, yt=yticks_e,
         h=172, top=19, bot=42, left=69, right=24, lx=9, ly=11, xs=7),
    dict(lab="f)", obs=obs_f, mods=[yen_f, lan_f, stu_f, jor_f, ca1_f, ca2_f, van_f, sch_f, and_f],
         t0=2004, so=1 / 24, sm=1 / 12, xr=(2004, 2007), yr=(-30.0, -23.85), xt=xticks_ef, yt=yticks_f,
         h=163, top=16, bot=28, left=69, right=24, lx=13, ly=8, xs=6),
]

FIG_W = 683
figs = []
for pp in panels:
    p = figure(width=FIG_W, height=pp["h"], x_range=Range1d(*pp["xr"]), y_range=Range1d(*pp["yr"]),
               output_backend="svg", toolbar_location=None, title=None,
               min_border_left=pp["left"], min_border_right=pp["right"],
               min_border_top=pp["top"], min_border_bottom=pp["bot"])
    p.outline_line_color = None
    p.grid.visible = False
    p.background_fill_color = "white"

    t_obs = pp["t0"] + np.arange(len(pp["obs"])) * pp["so"]
    p.line(t_obs, pp["obs"], line_color=colors[0], line_width=widths[0], line_join="round")
    for i, m in enumerate(pp["mods"]):
        t_m = pp["t0"] + np.arange(len(m)) * pp["sm"]
        p.line(t_m, m, line_color=colors[i + 1], line_dash=dashes[i + 1], line_width=widths[i + 1],
               line_alpha=0.85)

    p.xaxis.ticker = FixedTicker(ticks=pp["xt"])
    p.yaxis.ticker = FixedTicker(ticks=pp["yt"])
    p.xaxis.major_label_overrides = {v: str(v) for v in pp["xt"]}
    p.yaxis.major_label_overrides = {v: "-" + str(abs(v)) for v in pp["yt"]}
    for ax in (p.xaxis[0], p.yaxis[0]):
        ax.axis_line_color = "#808080"
        ax.axis_line_width = 1
        ax.major_tick_line_color = "#808080"
        ax.major_tick_in = 5
        ax.major_tick_out = 0
        ax.minor_tick_line_color = None
        ax.major_label_text_font = FONT
        ax.major_label_text_font_size = "16px"
        ax.major_label_text_color = "#404040"
    p.xaxis.major_label_standoff = pp["xs"]
    p.yaxis.major_label_standoff = 6
    p.yaxis.axis_label = "T( \u00b0 C)"
    p.yaxis.axis_label_text_font = FONT
    p.yaxis.axis_label_text_font_size = "22px"
    p.yaxis.axis_label_text_font_style = "normal"
    p.yaxis.axis_label_text_color = "#404040"
    p.yaxis.axis_label_standoff = 3

    p.add_layout(Label(x=pp["lx"], y=pp["ly"], x_units="screen", y_units="screen", text=pp["lab"],
                       text_font=FONT, text_font_size="24px", text_font_style="bold",
                       text_color="#000000", text_baseline="bottom", text_align="left"))
    figs.append(p)

# ---------------- legend panel (drawn in pixel coordinates) ----------------
TOTAL_H = sum(pp["h"] for pp in panels)
LEG_W = 772 - FIG_W
leg = figure(width=LEG_W, height=TOTAL_H, x_range=Range1d(0, LEG_W), y_range=Range1d(TOTAL_H, 0),
             output_backend="svg", toolbar_location=None, title=None,
             x_axis_type=None, y_axis_type=None, min_border=0)
leg.outline_line_color = None
BOX_L, BOX_R, BOX_T, BOX_B = 4, 87, 335, 664
leg.quad(left=[BOX_L], right=[BOX_R], top=[BOX_T], bottom=[BOX_B],
         fill_color="white", line_color="#b0b0b0", line_width=1)
ROW0, PITCH = 352.5, 33.4
for i, name in enumerate(series_names):
    yc = ROW0 + i * PITCH
    leg.line(x=[BOX_L + 2, BOX_L + 28], y=[yc, yc], line_color=colors[i], line_dash=dashes[i],
             line_width=1.5 if i == 0 else 1.0)
    leg.text(x=[BOX_L + 30], y=[yc], text=[name], text_font=value(FONT), text_font_size=value("23px"),
             text_color="#000000", text_baseline="middle", text_align="left")

layout = row(column(*figs, spacing=0), leg, spacing=0)
open("out.html", "w").write(file_html(layout, INLINE))
